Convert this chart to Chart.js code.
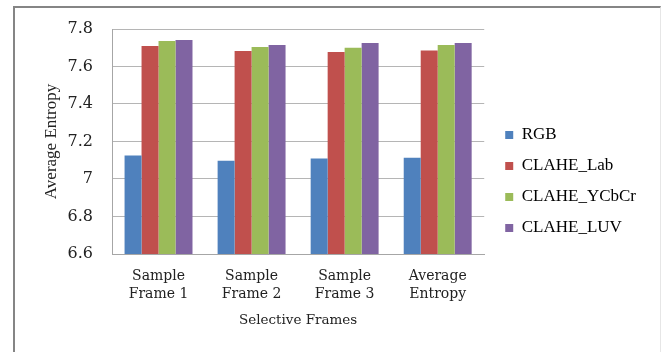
<!DOCTYPE html>
<html>
<head>
<meta charset="utf-8">
<script src="https://cdn.jsdelivr.net/npm/chart.js@4.4.0/dist/chart.umd.min.js"></script>
<style>
  html, body { margin: 0; padding: 0; background: #fff; }
  #wrap { position: relative; width: 661px; height: 352px; overflow: hidden; }
  #frame { position: absolute; left: 13px; top: 6px; width: 645px; height: 400px;
           border-left: 2px solid #858585; border-top: 2px solid #858585; border-right: 1px solid #e6e6e6; }
  canvas { position: absolute; left: 0; top: 0; }
</style>
</head>
<body>
<div id="wrap">
  <div id="frame"></div>
  <canvas id="c" width="661" height="352"></canvas>
</div>
<script>
const categories = [["Sample", "Frame 1"], ["Sample", "Frame 2"], ["Sample", "Frame 3"], ["Average", "Entropy"]];
const seriesNames = ["RGB", "CLAHE_Lab", "CLAHE_YCbCr", "CLAHE_LUV"];
const rgb = [7.125, 7.097, 7.11, 7.114];
const claheLab = [7.71, 7.683, 7.677, 7.686];
const claheYCbCr = [7.736, 7.704, 7.70, 7.715];
const claheLUV = [7.742, 7.715, 7.725, 7.725];
const yTicks = [6.6, 6.8, 7, 7.2, 7.4, 7.6, 7.8];
const colors = ["#4F81BD", "#C0504D", "#9BBB59", "#8064A2"];

const seriesValues = [rgb, claheLab, claheYCbCr, claheLUV];

// nudges the legend a little away from the plot area (Excel-like gap)
const legendGap = {
  id: 'legendGap',
  afterLayout(chart) {
    if (chart.legend) { chart.legend.left += 7; chart.legend.right += 7; }
  }
};

new Chart(document.getElementById('c'), {
  type: 'bar',
  data: {
    labels: categories,
    datasets: seriesNames.map((n, i) => ({
      label: n,
      data: seriesValues[i],
      backgroundColor: colors[i],
      borderWidth: 0,
      categoryPercentage: 0.73,
      barPercentage: 1.0
    }))
  },
  plugins: [legendGap],
  options: {
    responsive: false,
    animation: false,
    devicePixelRatio: 1,
    layout: { padding: { left: 0, top: 29, right: 22, bottom: 0 } },
    plugins: {
      tooltip: { enabled: false },
      legend: {
        position: 'right',
        align: 'start',
        title: { display: true, text: '', font: { size: 10, lineHeight: 1 }, padding: { top: 73.5, bottom: 0 } },
        labels: {
          boxWidth: 8,
          boxHeight: 8,
          padding: 14,
          color: '#000',
          font: { family: '"Liberation Serif", "Times New Roman", serif', size: 17 }
        }
      }
    },
    scales: {
      x: {
        grid: { display: false, drawTicks: false },
        border: { display: true, color: '#a6a6a6', width: 1 },
        ticks: {
          color: '#222',
          padding: 13,
          maxRotation: 0,
          autoSkip: false,
          font: { family: '"DejaVu Serif", serif', size: 14, lineHeight: 1.3 }
        },
        title: {
          display: true,
          text: 'Selective Frames',
          color: '#222',
          font: { family: '"DejaVu Serif", serif', size: 13.5 },
          padding: { top: 0, bottom: 23 }
        },
        afterFit: (s) => { s.height = 98; }
      },
      y: {
        min: 6.6,
        max: 7.8,
        afterBuildTicks: (s) => { s.ticks = yTicks.map(v => ({ value: v })); },
        grid: { color: '#b5b5b5', lineWidth: 1, drawTicks: false },
        border: { display: true, color: '#a6a6a6', width: 1 },
        ticks: {
          color: '#222',
          padding: 19,
          font: { family: '"DejaVu Serif", serif', size: 16 },
          callback: (v) => String(v)
        },
        title: {
          display: true,
          text: 'Average Entropy',
          color: '#222',
          font: { family: '"Liberation Serif", "Times New Roman", serif', size: 17 },
          padding: { top: 41, bottom: 0 }
        },
        afterFit: (s) => { s.width = 112; }
      }
    }
  }
});
</script>
</body>
</html>
